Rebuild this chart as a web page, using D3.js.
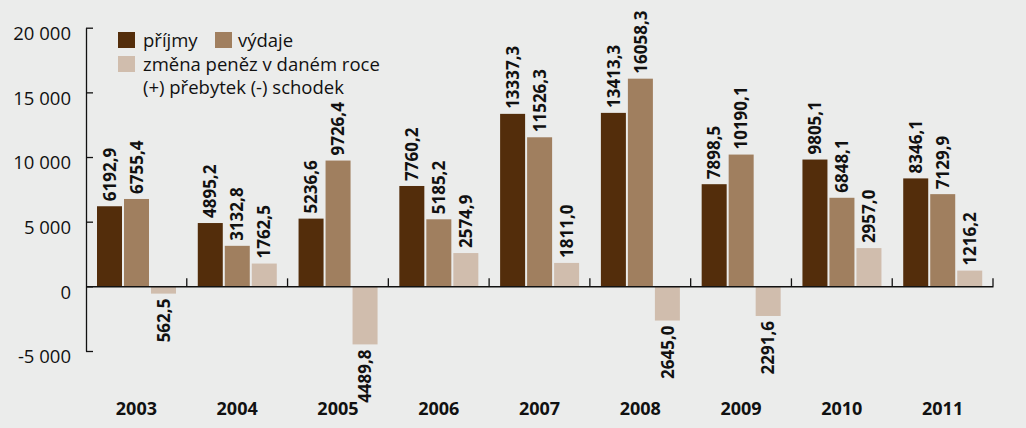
<!DOCTYPE html>
<html>
<head>
<meta charset="utf-8">
<script src="https://cdn.jsdelivr.net/npm/d3@7"></script>
<style>
  html, body { margin: 0; padding: 0; background: #ebeceb; }
  svg { display: block; font-family: 'Open Sans', sans-serif; }
</style>
</head>
<body>
<svg id="chart" width="1026" height="428"></svg>
<script>
const years = ['2003', '2004', '2005', '2006', '2007', '2008', '2009', '2010', '2011'];
const prijmy = [6192.9, 4895.2, 5236.6, 7760.2, 13337.3, 13413.3, 7898.5, 9805.1, 8346.1];
const vydaje = [6755.4, 3132.8, 9726.4, 5185.2, 11526.3, 16058.3, 10190.1, 6848.1, 7129.9];
const zmena = [-562.5, 1762.5, -4489.8, 2574.9, 1811.0, -2645.0, -2291.6, 2957.0, 1216.2];
const seriesNames = ['příjmy', 'výdaje', 'zmena'];
const colours = ['#532d0b', '#a07f5f', '#d0bdad'];
const yTicks = [-5000, 0, 5000, 10000, 15000, 20000];

const svg = d3.select('#chart');

const x = d3.scaleBand().domain(years).range([86, 993]);
const xs = d3.scaleBand().domain(seriesNames).range([11, 90]).paddingInner(0.074);
const y = d3.scaleLinear().domain([-5000, 20000]).range([351, 27.7]);

const fmtTick = v => d3.format(',')(v).replace(/,/g, ' ').replace('\u2212', '-');
const fmtVal = v => Math.abs(v).toFixed(1).replace('.', ',');

// bars
const series = [prijmy, vydaje, zmena];
series.forEach((vals, s) => {
  const g = svg.append('g');
  vals.forEach((v, i) => {
    const bx = x(years[i]) + xs(seriesNames[s]);
    const top = v >= 0 ? y(v) : y(0);
    g.append('rect')
      .attr('x', bx)
      .attr('y', top)
      .attr('width', xs.bandwidth())
      .attr('height', Math.abs(y(v) - y(0)))
      .attr('fill', colours[s]);

    const cx = bx + xs.bandwidth() / 2;
    const ly = v >= 0 ? y(v) - 5 : y(v) + 5;
    g.append('text')
      .attr('transform', `translate(${cx},${ly}) rotate(-90)`)
      .attr('dy', '0.36em')
      .attr('text-anchor', v >= 0 ? 'start' : 'end')
      .style('font-size', '17px')
      .style('font-weight', 'bold')
      .style('fill', '#111')
      .text(fmtVal(v));
  });
});

// y axis
const yAxis = svg.append('g')
  .attr('transform', 'translate(86,0)')
  .call(d3.axisLeft(y).tickValues(yTicks).tickSizeInner(-7).tickSizeOuter(0).tickPadding(15).tickFormat(fmtTick));
yAxis.select('.domain').attr('stroke', '#111').attr('stroke-width', 1.3);
yAxis.selectAll('.tick line').attr('stroke', '#111').attr('stroke-width', 1.3);
yAxis.selectAll('.tick text')
  .attr('dy', '0.64em')
  .style('font-size', '18.5px')
  .style('font-family', 'Open Sans, sans-serif')
  .style('fill', '#111');

// x axis at zero
const xAxis = svg.append('g')
  .attr('transform', `translate(0,${y(0)})`)
  .call(d3.axisBottom(x).tickSize(0).tickFormat(''));
xAxis.select('.domain').attr('stroke', '#111').attr('stroke-width', 1.5);
const bounds = years.map(d => x(d) + x.bandwidth());
svg.append('g').selectAll('line')
  .data(bounds)
  .join('line')
  .attr('x1', d => d).attr('x2', d => d)
  .attr('y1', y(0) - 8).attr('y2', y(0))
  .attr('stroke', '#111')
  .attr('stroke-width', 1.3);

// year labels
svg.append('g').selectAll('text')
  .data(years)
  .join('text')
  .attr('x', d => x(d) + x.bandwidth() / 2)
  .attr('y', 415)
  .attr('text-anchor', 'middle')
  .style('font-size', '18px')
  .style('font-weight', 'bold')
  .style('fill', '#111')
  .text(d => d);

// legend
const legend = svg.append('g');
const legendItems = [
  { x: 118, y: 32, c: colours[0], t: 'příjmy', tx: 143, ty: 47 },
  { x: 215, y: 32, c: colours[1], t: 'výdaje', tx: 238, ty: 47 },
  { x: 118, y: 56, c: colours[2], t: 'změna peněz v daném roce', tx: 143, ty: 71 }
];
legendItems.forEach(d => {
  legend.append('rect').attr('x', d.x).attr('y', d.y).attr('width', 17).attr('height', 16).attr('fill', d.c);
  legend.append('text').attr('x', d.tx).attr('y', d.ty)
    .style('font-size', '18.5px').style('fill', '#111').text(d.t);
});
legend.append('text').attr('x', 143).attr('y', 94)
  .style('font-size', '18.5px').style('fill', '#111').text('(+) přebytek (-) schodek');
</script>
</body>
</html>
